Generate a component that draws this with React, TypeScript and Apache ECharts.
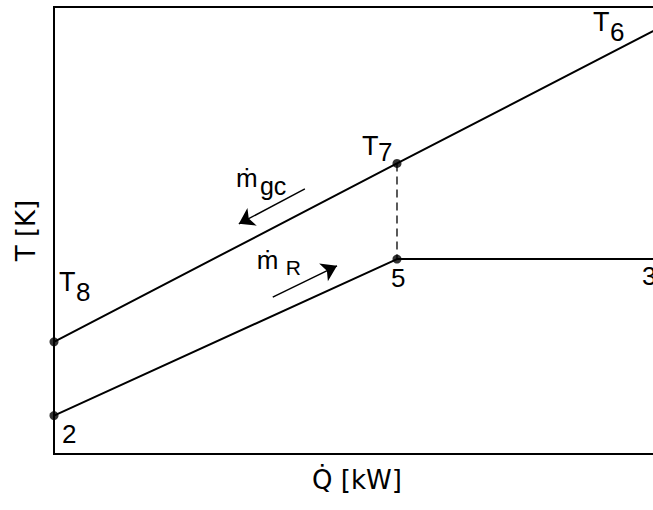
import React, { useEffect, useRef } from "react";
import * as echarts from "echarts";

// T–Q diagram of a gas cooler: axes are qualitative, scaled 0–100
const Q_MIN = 0;
const Q_MAX = 100;
const T_MIN = 0;
const T_MAX = 100;

// gas-cooler stream T8 → T7 → T6
const gasQ = [0, 56.6, 100];
const gasT = [25.1, 65.0, 95.4];

// refrigerant stream 2 → 5 → 3
const refQ = [0, 56.6, 100];
const refT = [8.6, 43.6, 43.6];

// marked state points
const stateQ = [0, 56.6, 0, 56.6];
const stateT = [25.1, 65.0, 8.6, 43.6];

// connector between T7 and 5
const pinchQ = [56.6, 56.6];
const pinchT = [65.0, 43.6];

// flow-direction arrows, [tail, head]
const gcArrowQ = [41.4, 30.5];
const gcArrowT = [59.3, 51.5];
const rArrowQ = [36.1, 46.7];
const rArrowT = [35.1, 42.1];

// labels: main text, subscript, anchor in data coordinates
const labelMain = ["T", "T", "T", "5", "2", "3", "ṁ", "ṁ"];
const labelSub = ["6", "7", "8", "", "", "", "gc", "R"];
const labelQ = [100, 56.6, 0, 56.6, 0, 100, 41.4, 36.1];
const labelT = [95.4, 65.0, 25.1, 43.6, 8.6, 43.6, 59.3, 35.1];

const xTitle = "Q̇ [kW]";
const yTitle = "T [K]";

const FONT = '"Liberation Sans", Arial, sans-serif';
const TITLE_FONT = '"DejaVu Sans", "Liberation Sans", sans-serif';

// pixel placement of each label relative to its anchor: [mainDx, mainDy, subDx, subDy, mainSize, subSize]
const labelPlacement = [
  [-67, -6, -50, 4, 27, 26],
  [-35, -17, -19, -11, 27, 26],
  [5, -60, 22, -50, 27, 26],
  [-6, 19, 0, 0, 26, 26],
  [8, 18, 0, 0, 26, 26],
  [-18, 17, 0, 0, 26, 26],
  [-69, -11, -45, -3, 26, 25],
  [-16, -37, 13, -30, 26, 21],
];

const zip = (a: number[], b: number[]) => a.map((v, i) => [v, b[i]]);

export default function App() {
  const ref = useRef<HTMLDivElement>(null);

  useEffect(() => {
    if (!ref.current) return;
    const chart = echarts.init(ref.current, undefined, { renderer: "svg" });

    const axisCommon = {
      type: "value" as const,
      axisLine: { show: false },
      axisTick: { show: false },
      axisLabel: { show: false },
      splitLine: { show: false },
    };

    const arrowSeries = (q: number[], t: number[]) => ({
      type: "lines" as const,
      coordinateSystem: "cartesian2d",
      symbol: ["none", "arrow"],
      symbolSize: [10, 15],
      lineStyle: { color: "#000", width: 1.5, opacity: 1 },
      silent: true,
      data: [{ coords: zip(q, t) }],
    });

    chart.setOption({
      animation: false,
      grid: {
        left: 54,
        top: 7,
        bottom: 56,
        right: 40,
        show: true,
        borderColor: "#000",
        borderWidth: 2,
        backgroundColor: "transparent",
      },
      xAxis: {
        ...axisCommon,
        min: Q_MIN,
        max: Q_MAX,
        name: xTitle,
        nameLocation: "middle",
        nameGap: 13,
        nameTextStyle: {
          fontFamily: TITLE_FONT,
          fontSize: 26,
          color: "#000",
          verticalAlign: "top",
        },
      },
      yAxis: {
        ...axisCommon,
        min: T_MIN,
        max: T_MAX,
        name: yTitle,
        nameLocation: "middle",
        nameGap: 15,
        nameRotate: 90,
        nameTextStyle: {
          fontFamily: TITLE_FONT,
          fontSize: 26,
          color: "#000",
        },
      },
      series: [
        {
          type: "line",
          data: zip(gasQ, gasT),
          symbol: "none",
          lineStyle: { color: "#000", width: 2 },
          silent: true,
        },
        {
          type: "line",
          data: zip(refQ, refT),
          symbol: "none",
          lineStyle: { color: "#000", width: 2 },
          silent: true,
        },
        {
          type: "line",
          data: zip(pinchQ, pinchT),
          symbol: "none",
          lineStyle: { color: "#000", width: 1.3, type: [8, 5] },
          silent: true,
        },
        {
          type: "scatter",
          data: zip(stateQ, stateT),
          symbol: "circle",
          symbolSize: 9,
          itemStyle: { color: "#000" },
          clip: false,
          silent: true,
          z: 5,
        },
        arrowSeries(gcArrowQ, gcArrowT),
        arrowSeries(rArrowQ, rArrowT),
      ],
    });

    // state labels with subscripts, placed beside their anchors
    const graphics: any[] = [];
    labelMain.forEach((main, i) => {
      const [px, py] = chart.convertToPixel({ gridIndex: 0 }, [labelQ[i], labelT[i]]) as number[];
      const [mdx, mdy, sdx, sdy, msz, ssz] = labelPlacement[i];
      graphics.push({
        type: "text",
        x: px + mdx,
        y: py + mdy,
        silent: true,
        style: {
          text: main,
          fontFamily: FONT,
          fontSize: msz,
          fill: "#000",
          align: "left",
          verticalAlign: "middle",
        },
      });
      if (labelSub[i]) {
        graphics.push({
          type: "text",
          x: px + sdx,
          y: py + sdy,
          silent: true,
          style: {
            text: labelSub[i],
            fontFamily: FONT,
            fontSize: ssz,
            fill: "#000",
            align: "left",
            verticalAlign: "middle",
          },
        });
      }
    });
    chart.setOption({ graphic: graphics });

    return () => chart.dispose();
  }, []);

  return (
    <div
      style={{
        position: "fixed",
        left: 0,
        top: 0,
        width: 653,
        height: 510,
        overflow: "hidden",
        background: "#fff",
      }}
    >
      <div ref={ref} style={{ width: 700, height: 510 }} />
    </div>
  );
}
